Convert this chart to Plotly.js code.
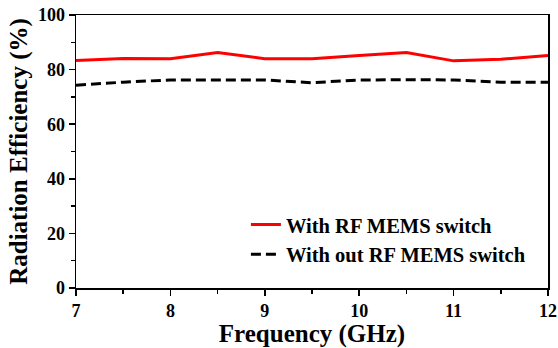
<!DOCTYPE html>
<html><head><meta charset="utf-8">
<script src="https://cdn.plot.ly/plotly-3.0.1.min.js"></script>
<style>html,body{margin:0;padding:0;background:#fff}#chart{width:558px;height:348px}</style>
</head><body><div id="chart"></div>
<script>
const freq = [7, 7.5, 8, 8.5, 9, 9.5, 10, 10.5, 11, 11.5, 12];
const withSwitch = [83.3, 84.1, 84.0, 86.3, 84.0, 84.0, 85.2, 86.3, 83.2, 83.8, 85.2];
const withoutSwitch = [74.3, 75.4, 76.2, 76.3, 76.2, 75.2, 76.2, 76.3, 76.2, 75.4, 75.4];
const names = ["With RF MEMS switch", "With out RF MEMS switch"];
const xTicks = [7, 8, 9, 10, 11, 12];
const yTicks = [0, 20, 40, 60, 80, 100];

const font = "Liberation Serif, Times New Roman, serif";
const traces = [
  {x: freq, y: withSwitch, name: names[0], mode: "lines", line: {color: "#ff0000", width: 3}},
  {x: freq, y: withoutSwitch, name: names[1], mode: "lines", line: {color: "#000000", width: 3, dash: "10px,5px"}}
];
const layout = {
  width: 558, height: 348,
  margin: {l: 76, r: 10, t: 15, b: 60},
  paper_bgcolor: "#fff", plot_bgcolor: "#fff",
  font: {family: font, color: "#000"},
  showlegend: true,
  legend: {x: 0.36, y: 0.305, xanchor: "left", yanchor: "top", bgcolor: "rgba(0,0,0,0)",
    font: {family: font, size: 20.5, color: "#000", weight: "bold"}, tracegroupgap: 0},
  xaxis: {
    range: [7, 12], tickvals: xTicks, ticktext: xTicks.map(String),
    ticks: "outside", ticklen: 6, tickwidth: 1.5, tickcolor: "#000",
    minor: {dtick: 0.5, tick0: 7, ticks: "outside", ticklen: 4, tickwidth: 1.5, tickcolor: "#000"},
    showline: true, linecolor: "#000", linewidth: 1.5, mirror: true, showgrid: false, zeroline: false,
    tickfont: {family: font, size: 18, weight: "bold"},
    title: {text: "Frequency (GHz)", font: {family: font, size: 25, weight: "bold"}, standoff: 0}
  },
  yaxis: {
    range: [0, 100], tickvals: yTicks, ticktext: yTicks.map(String),
    ticks: "outside", ticklen: 6, tickwidth: 1.5, tickcolor: "#000",
    minor: {dtick: 10, tick0: 0, ticks: "outside", ticklen: 4, tickwidth: 1.5, tickcolor: "#000"},
    showline: true, linecolor: "#000", linewidth: 1.5, mirror: true, showgrid: false, zeroline: false,
    tickfont: {family: font, size: 18, weight: "bold"},
    title: {text: "Radiation Efficiency (%)", font: {family: font, size: 25, weight: "bold"}, standoff: 3}
  }
};
Plotly.newPlot("chart", traces, layout, {staticPlot: true, displayModeBar: false});
</script></body></html>
